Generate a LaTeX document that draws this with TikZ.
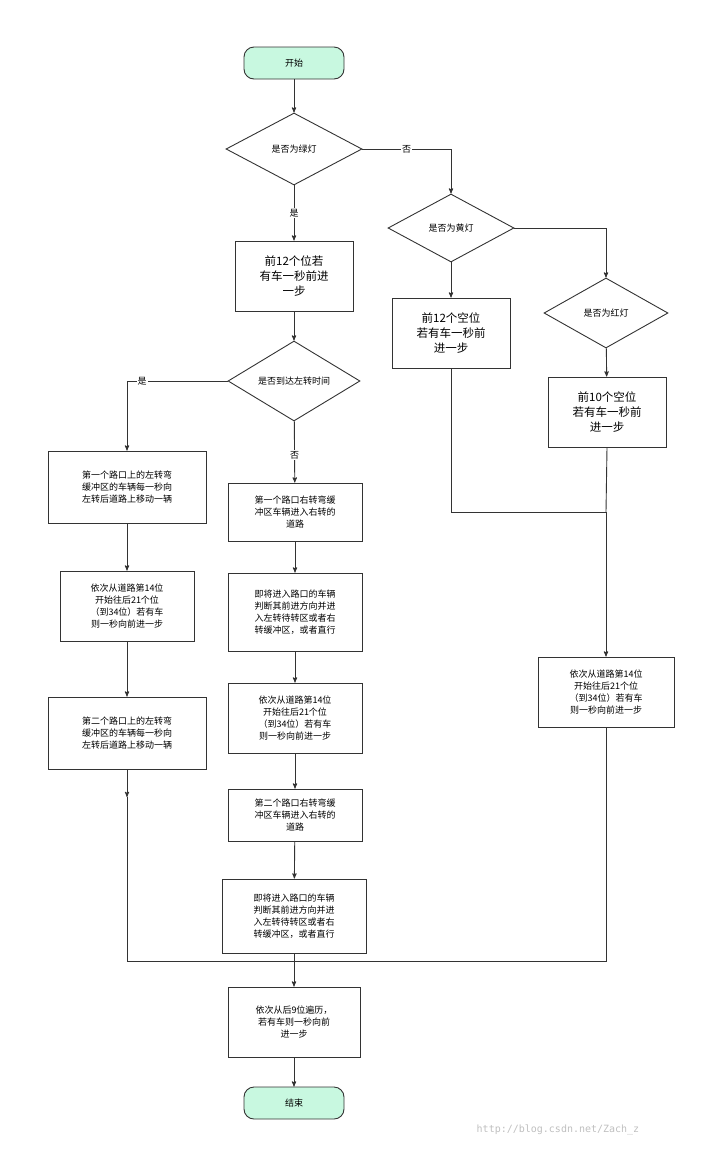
\documentclass[tikz,border=0pt]{standalone}
\usepackage{fontspec}
\newfontfamily\cjk{Noto Sans CJK SC}
\setmonofont{DejaVu Sans Mono}
\usetikzlibrary{arrows,shapes.geometric}
\definecolor{mint}{HTML}{C8F8E0}
\begin{document}
\begin{tikzpicture}[x=1pt,y=-1pt,>=stealth',font=\cjk\fontsize{9}{12}\selectfont,
  line width=0.9pt,draw=black!80]
  \tikzset{term/.style={draw,rounded corners=10pt,fill=mint,minimum width=100pt,minimum height=32pt},
    test/.style={draw,diamond,aspect=1.9,inner sep=1pt},
    proc/.style={draw,align=center,inner sep=2pt},
    big/.style={proc,font=\cjk\fontsize{11.5}{15}\selectfont,minimum width=118pt,minimum height=70pt},
    flow/.style={->,draw=black!80,line width=0.9pt},
    lab/.style={fill=white,inner sep=1pt}}
  \useasboundingbox (0,0) rectangle (704,1149);
  \node[term]          (start) at (294,63)   {开始};
  \node[test,minimum width=136pt,minimum height=72pt] (green) at (294,149) {是否为绿灯};
  \node[test,minimum width=126pt,minimum height=68pt] (yellow) at (451,228) {是否为黄灯};
  \node[test,minimum width=124pt,minimum height=70pt] (red) at (606,313) {是否为红灯};
  \node[big]           (go12) at (294,276)   {前12个位若\\有车一秒前进\\一步};
  \node[big]           (gof12) at (451,333)  {前12个空位\\若有车一秒前\\进一步};
  \node[big,minimum width=118pt] (gof10) at (607,412) {前10个空位\\若有车一秒前\\进一步};
  \node[test,minimum width=132pt,minimum height=80pt] (left) at (294,381) {是否到达左转时间};
  \node[proc,minimum width=158pt,minimum height=72pt] (lmove1) at (127,487) {第一个路口上的左转弯\\缓冲区的车辆每一秒向\\左转后道路上移动一辆};
  \node[proc,minimum width=134pt,minimum height=70pt] (lstep) at (127,606) {依次从道路第14位\\开始往后21个位\\（到34位）若有车\\则一秒向前进一步};
  \node[proc,minimum width=158pt,minimum height=72pt] (lmove2) at (127,733) {第二个路口上的左转弯\\缓冲区的车辆每一秒向\\左转后道路上移动一辆};
  \node[proc,minimum width=134pt,minimum height=58pt] (rturn1) at (295,512) {第一个路口右转弯缓\\冲区车辆进入右转的\\道路};
  \node[proc,minimum width=134pt,minimum height=78pt] (judge1) at (295,612) {即将进入路口的车辆\\判断其前进方向并进\\入左转待转区或者右\\转缓冲区，或者直行};
  \node[proc,minimum width=134pt,minimum height=70pt] (mstep) at (295,718) {依次从道路第14位\\开始往后21个位\\（到34位）若有车\\则一秒向前进一步};
  \node[proc,minimum width=134pt,minimum height=52pt] (rturn2) at (295,815) {第二个路口右转弯缓\\冲区车辆进入右转的\\道路};
  \node[proc,minimum width=144pt,minimum height=74pt] (judge2) at (294,916) {即将进入路口的车辆\\判断其前进方向并进\\入左转待转区或者右\\转缓冲区，或者直行};
  \node[proc,minimum width=136pt,minimum height=70pt] (rstep) at (606,692) {依次从道路第14位\\开始往后21个位\\（到34位）若有车\\则一秒向前进一步};
  \node[proc,minimum width=132pt,minimum height=70pt] (tail) at (294,1022) {依次从后9位遍历，\\若有车则一秒向前\\进一步};
  \node[term]          (stop) at (294,1103)  {结束};
  \coordinate (join) at (294,961);
  % main column
  \draw[flow] (start) -- (green);
  \draw[flow] (green) -- node[lab,pos=0.5] {是} (go12);
  \draw[flow] (green.east) -- node[lab] {否} (451,149) -- (yellow.north);
  \draw[flow] (yellow.east) -- (606,228) -- (red.north);
  \draw[flow] (yellow) -- (gof12);
  \draw[flow] (red) -- (gof10);
  \draw[flow] (go12) -- (left);
  \draw[flow] (left.west) -- node[lab,pos=0.85] {是} (127,381) -- (lmove1.north);
  \draw[flow] (left) -- node[lab,pos=0.55] {否} (rturn1);
  \draw[flow] (lmove1) -- (lstep);
  \draw[flow] (lstep) -- (lmove2);
  \draw[flow] (rturn1) -- (judge1);
  \draw[flow] (judge1) -- (mstep);
  \draw[flow] (mstep) -- (rturn2);
  \draw[flow] (rturn2) -- (judge2);
  \draw[flow] (gof12.south) -- (451,512) -- (606,512) -- (rstep.north);
  \draw (gof10.south) -- (606,512);
  \draw[flow] (lmove2.south) -- (127,797);
  \draw (127,797) -- (127,961) -- (join);
  \draw (rstep.south) -- (606,961) -- (join);
  \draw (judge2) -- (join);
  \draw[flow] (join) -- (tail);
  \draw[flow] (tail) -- (stop);
  \node[text=black!25,font=\ttfamily\fontsize{10}{12}\selectfont] (mark) at (558,1130) {http://blog.csdn.net/Zach\_z};
\end{tikzpicture}
\end{document}
